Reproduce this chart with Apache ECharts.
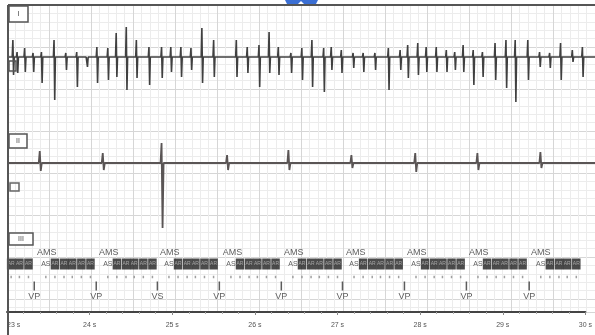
<!DOCTYPE html>
<html>
<head>
<meta charset="utf-8">
<script src="https://cdn.jsdelivr.net/npm/echarts@6/dist/echarts.min.js"></script>
<style>
html, body { margin: 0; padding: 0; background: #fff; }
#chart { width: 595px; height: 335px; }
</style>
</head>
<body>
<div id="chart"></div>
<script>
// lead I: atrial activity, one entry per deflection (time in s, peak up / down)
var leadITimes = [23.07, 23.12, 23.21, 23.31, 23.41, 23.56, 23.70, 23.83, 23.95, 24.07,
    24.20, 24.30, 24.42, 24.54, 24.69, 24.84, 24.95, 25.07, 25.19, 25.32,
    25.46, 25.73, 25.86, 26.00, 26.12, 26.23, 26.38, 26.51, 26.63, 26.77,
    26.86, 26.98, 27.12, 27.24, 27.38, 27.54, 27.68, 27.77, 27.89, 27.99,
    28.11, 28.23, 28.33, 28.43, 28.55, 28.66, 28.81, 28.94, 29.05, 29.20,
    29.34, 29.46, 29.59, 29.73, 29.85];
var leadIUp = [17, 5, 9, 4, 5, 17, 4, 5, 2, 10,
    9, 24, 30, 17, 10, 10, 10, 10, 9, 29,
    17, 17, 10, 12, 25, 10, 4, 9, 17, 9,
    10, 7, 4, 4, 4, 9, 7, 12, 14, 10,
    10, 7, 5, 12, 7, 5, 14, 17, 17, 17,
    5, 4, 14, 7, 10];
var leadIDown = [-18, -16, -15, -15, -26, -43, -13, -30, -10, -26,
    -23, -20, -33, -21, -28, -21, -15, -20, -13, -26,
    -20, -20, -16, -30, -16, -18, -16, -23, -30, -35,
    -13, -16, -11, -15, -13, -33, -13, -21, -18, -15,
    -15, -15, -13, -15, -28, -20, -23, -31, -45, -23,
    -10, -11, -23, -5, -20];

// lead II: ventricular complexes
var leadIITimes = [23.39, 24.14, 24.84, 25.62, 26.35, 27.10, 27.86, 28.60, 29.35];
var leadIIUp = [12, 10, 20, 8, 13, 8, 10, 10, 11];
var leadIIDown = [-8, -7, -65, -7, -7, -5, -9, -7, -5];
var leadIIBlip = [-1.5, -1.5, 0, -1.5, -1.5, -1.5, -1.5, -1.5, -1.5];

// marker channel
var vTimes = [23.33, 24.08, 24.82, 25.57, 26.32, 27.06, 27.81, 28.56, 29.32];
var vLabels = ['VP', 'VP', 'VS', 'VP', 'VP', 'VP', 'VP', 'VP', 'VP'];
var amsTimes = [23.48, 24.23, 24.97, 25.73, 26.47, 27.22, 27.96, 28.71, 29.46];
var asTimes = [23.47, 24.22, 24.96, 25.71, 26.46, 27.20, 27.95, 28.70, 29.46];
var arTimes = [23.05, 23.15, 23.26,
    23.58, 23.69, 23.79, 23.90, 24.01,
    24.33, 24.44, 24.54, 24.65, 24.76,
    25.07, 25.18, 25.28, 25.39, 25.50,
    25.82, 25.93, 26.03, 26.14, 26.25,
    26.57, 26.68, 26.78, 26.89, 27.00,
    27.31, 27.42, 27.52, 27.63, 27.74,
    28.06, 28.17, 28.27, 28.38, 28.49,
    28.81, 28.92, 29.02, 29.13, 29.24,
    29.57, 29.68, 29.78, 29.89];

var tMin = 23, tMax = 30;

function spikeTrace(times, ups, downs, w, blips) {
    var pts = [[tMin, 0]];
    for (var i = 0; i < times.length; i++) {
        var t = times[i];
        pts.push([t - w, 0], [t, ups[i]], [t + w, downs[i]], [t + 2 * w, 0]);
        if (blips) {
            pts.push([t + 0.22, 0], [t + 0.235, blips[i]], [t + 0.25, 0]);
        }
    }
    pts.push([tMax, 0]);
    return pts;
}

function rowPoints(times, row) {
    return times.map(function(t) { return [t, row]; });
}

var chart = echarts.init(document.getElementById('chart'));

var hiddenX = function(idx) {
    return {gridIndex: idx, type: 'value', min: tMin, max: tMax, show: false};
};

var option = {
    animation: false,
    backgroundColor: '#fff',
    grid: [
        {left: 7, right: -4, top: 5, height: 307},
        {left: 7, right: -4, top: 5, height: 120},
        {left: 7, right: -4, top: 130, height: 100},
        {left: 7, right: -4, top: 232, height: 80}
    ],
    xAxis: [
        {
            gridIndex: 0, type: 'value', min: tMin, max: tMax, interval: 0.5,
            axisLine: {show: false}, axisTick: {show: false}, axisLabel: {show: false},
            splitLine: {lineStyle: {color: '#d6d6d6', width: 1}},
            minorTick: {show: false, splitNumber: 5},
            minorSplitLine: {show: true, lineStyle: {color: '#ececec', width: 1}}
        },
        hiddenX(1),
        hiddenX(2),
        {
            gridIndex: 3, type: 'value', min: tMin, max: tMax, interval: 1, position: 'bottom',
            axisLine: {show: true, onZero: false, lineStyle: {color: '#444', width: 2}},
            axisTick: {show: true, length: 3, lineStyle: {color: '#888'}},
            minorTick: {show: true, splitNumber: 5, length: 2, lineStyle: {color: '#aaa'}},
            splitLine: {show: false},
            axisLabel: {
                formatter: '{value} s', fontSize: 7, color: '#555', margin: 10,
                fontFamily: 'Liberation Sans', alignMinLabel: 'left'
            }
        }
    ],
    yAxis: [
        {
            gridIndex: 0, type: 'value', inverse: true, min: 0, max: 307, interval: 42,
            axisLine: {show: false}, axisTick: {show: false}, axisLabel: {show: false},
            splitLine: {lineStyle: {color: '#d6d6d6', width: 1}},
            minorTick: {show: false, splitNumber: 5},
            minorSplitLine: {show: true, lineStyle: {color: '#ececec', width: 1}}
        },
        {gridIndex: 1, type: 'value', min: -68, max: 52, show: false},
        {gridIndex: 2, type: 'value', min: -67, max: 33, show: false},
        {gridIndex: 3, type: 'value', inverse: true, min: 0, max: 80, show: false}
    ],
    series: [
        {
            name: 'I', type: 'line', xAxisIndex: 1, yAxisIndex: 1,
            data: spikeTrace(leadITimes, leadIUp, leadIDown, 0.008),
            symbol: 'none', lineStyle: {color: '#404040', width: 1.6}
        },
        {
            name: 'II', type: 'line', xAxisIndex: 2, yAxisIndex: 2,
            data: spikeTrace(leadIITimes, leadIIUp, leadIIDown, 0.012, leadIIBlip),
            symbol: 'none', lineStyle: {color: '#5a5555', width: 1.8}
        },
        {
            name: 'AMS', type: 'scatter', xAxisIndex: 3, yAxisIndex: 3,
            data: rowPoints(amsTimes, 21), symbolSize: 0,
            label: {show: true, position: 'inside', formatter: 'AMS', fontSize: 9, color: '#333', fontFamily: 'Liberation Sans'}
        },
        {
            name: 'AS', type: 'scatter', xAxisIndex: 3, yAxisIndex: 3,
            data: rowPoints(asTimes, 32), symbolSize: 0,
            label: {show: true, position: 'inside', formatter: 'AS', fontSize: 7, color: '#333', fontFamily: 'Liberation Sans'}
        },
        {
            name: 'AR', type: 'scatter', xAxisIndex: 3, yAxisIndex: 3, z: 5,
            data: rowPoints(arTimes, 32), symbol: 'rect', symbolSize: [8.5, 11],
            itemStyle: {color: '#1e1e1e'},
            label: {show: true, position: 'inside', formatter: 'AR', fontSize: 5, color: '#bbb', fontFamily: 'Liberation Sans'}
        },
        {
            name: 'A dots', type: 'scatter', xAxisIndex: 3, yAxisIndex: 3,
            data: rowPoints(asTimes.concat(arTimes), 45), symbol: 'rect', symbolSize: [1.5, 2.5],
            itemStyle: {color: '#888'}
        },
        {
            name: 'V tick', type: 'scatter', xAxisIndex: 3, yAxisIndex: 3,
            data: rowPoints(vTimes, 54), symbol: 'rect', symbolSize: [1.5, 9],
            itemStyle: {color: '#333'}
        },
        {
            name: 'V', type: 'scatter', xAxisIndex: 3, yAxisIndex: 3,
            data: vTimes.map(function(t, i) { return {name: vLabels[i], value: [t, 65]}; }),
            symbolSize: 0,
            label: {show: true, position: 'inside', formatter: '{b}', fontSize: 9, color: '#333', fontFamily: 'Liberation Sans'}
        }
    ],
    graphic: [
        {type: 'line', shape: {x1: 8, y1: 5, x2: 595, y2: 5}, style: {stroke: '#555', lineWidth: 2}, z: 10},
        {type: 'line', shape: {x1: 8, y1: 5, x2: 8, y2: 335}, style: {stroke: '#555', lineWidth: 2}, z: 10},
        {type: 'polygon', shape: {points: [[285, 0], [318, 0], [316, 4], [287, 4]]}, style: {fill: '#3b6fd4'}, z: 11},
        {type: 'polygon', shape: {points: [[298, 4], [301, 1], [304, 4]]}, style: {fill: '#fff'}, z: 12},
        // lead name boxes
        {type: 'rect', shape: {x: 9, y: 6, width: 19, height: 16}, style: {fill: '#fff', stroke: '#555', lineWidth: 1.5}, z: 10},
        {type: 'text', x: 18.5, y: 14, style: {text: 'I', fontSize: 7, fill: '#444', align: 'center', verticalAlign: 'middle'}, z: 11},
        {type: 'rect', shape: {x: 9, y: 134, width: 18, height: 14}, style: {fill: '#fff', stroke: '#555', lineWidth: 1.5}, z: 10},
        {type: 'text', x: 18, y: 141, style: {text: 'II', fontSize: 7, fill: '#444', align: 'center', verticalAlign: 'middle'}, z: 11},
        {type: 'rect', shape: {x: 9, y: 233, width: 24, height: 12}, style: {fill: '#fff', stroke: '#555', lineWidth: 1.5}, z: 10},
        {type: 'text', x: 21, y: 239, style: {text: 'III', fontSize: 7, fill: '#444', align: 'center', verticalAlign: 'middle'}, z: 11},
        // gain markers at left
        {type: 'rect', shape: {x: 9, y: 61, width: 7, height: 10}, style: {fill: 'none', stroke: '#555', lineWidth: 1.5}, z: 10},
        {type: 'rect', shape: {x: 10, y: 183, width: 9, height: 8}, style: {fill: 'none', stroke: '#666', lineWidth: 1.5}, z: 10}
    ]
};

chart.setOption(option);
</script>
</body>
</html>
